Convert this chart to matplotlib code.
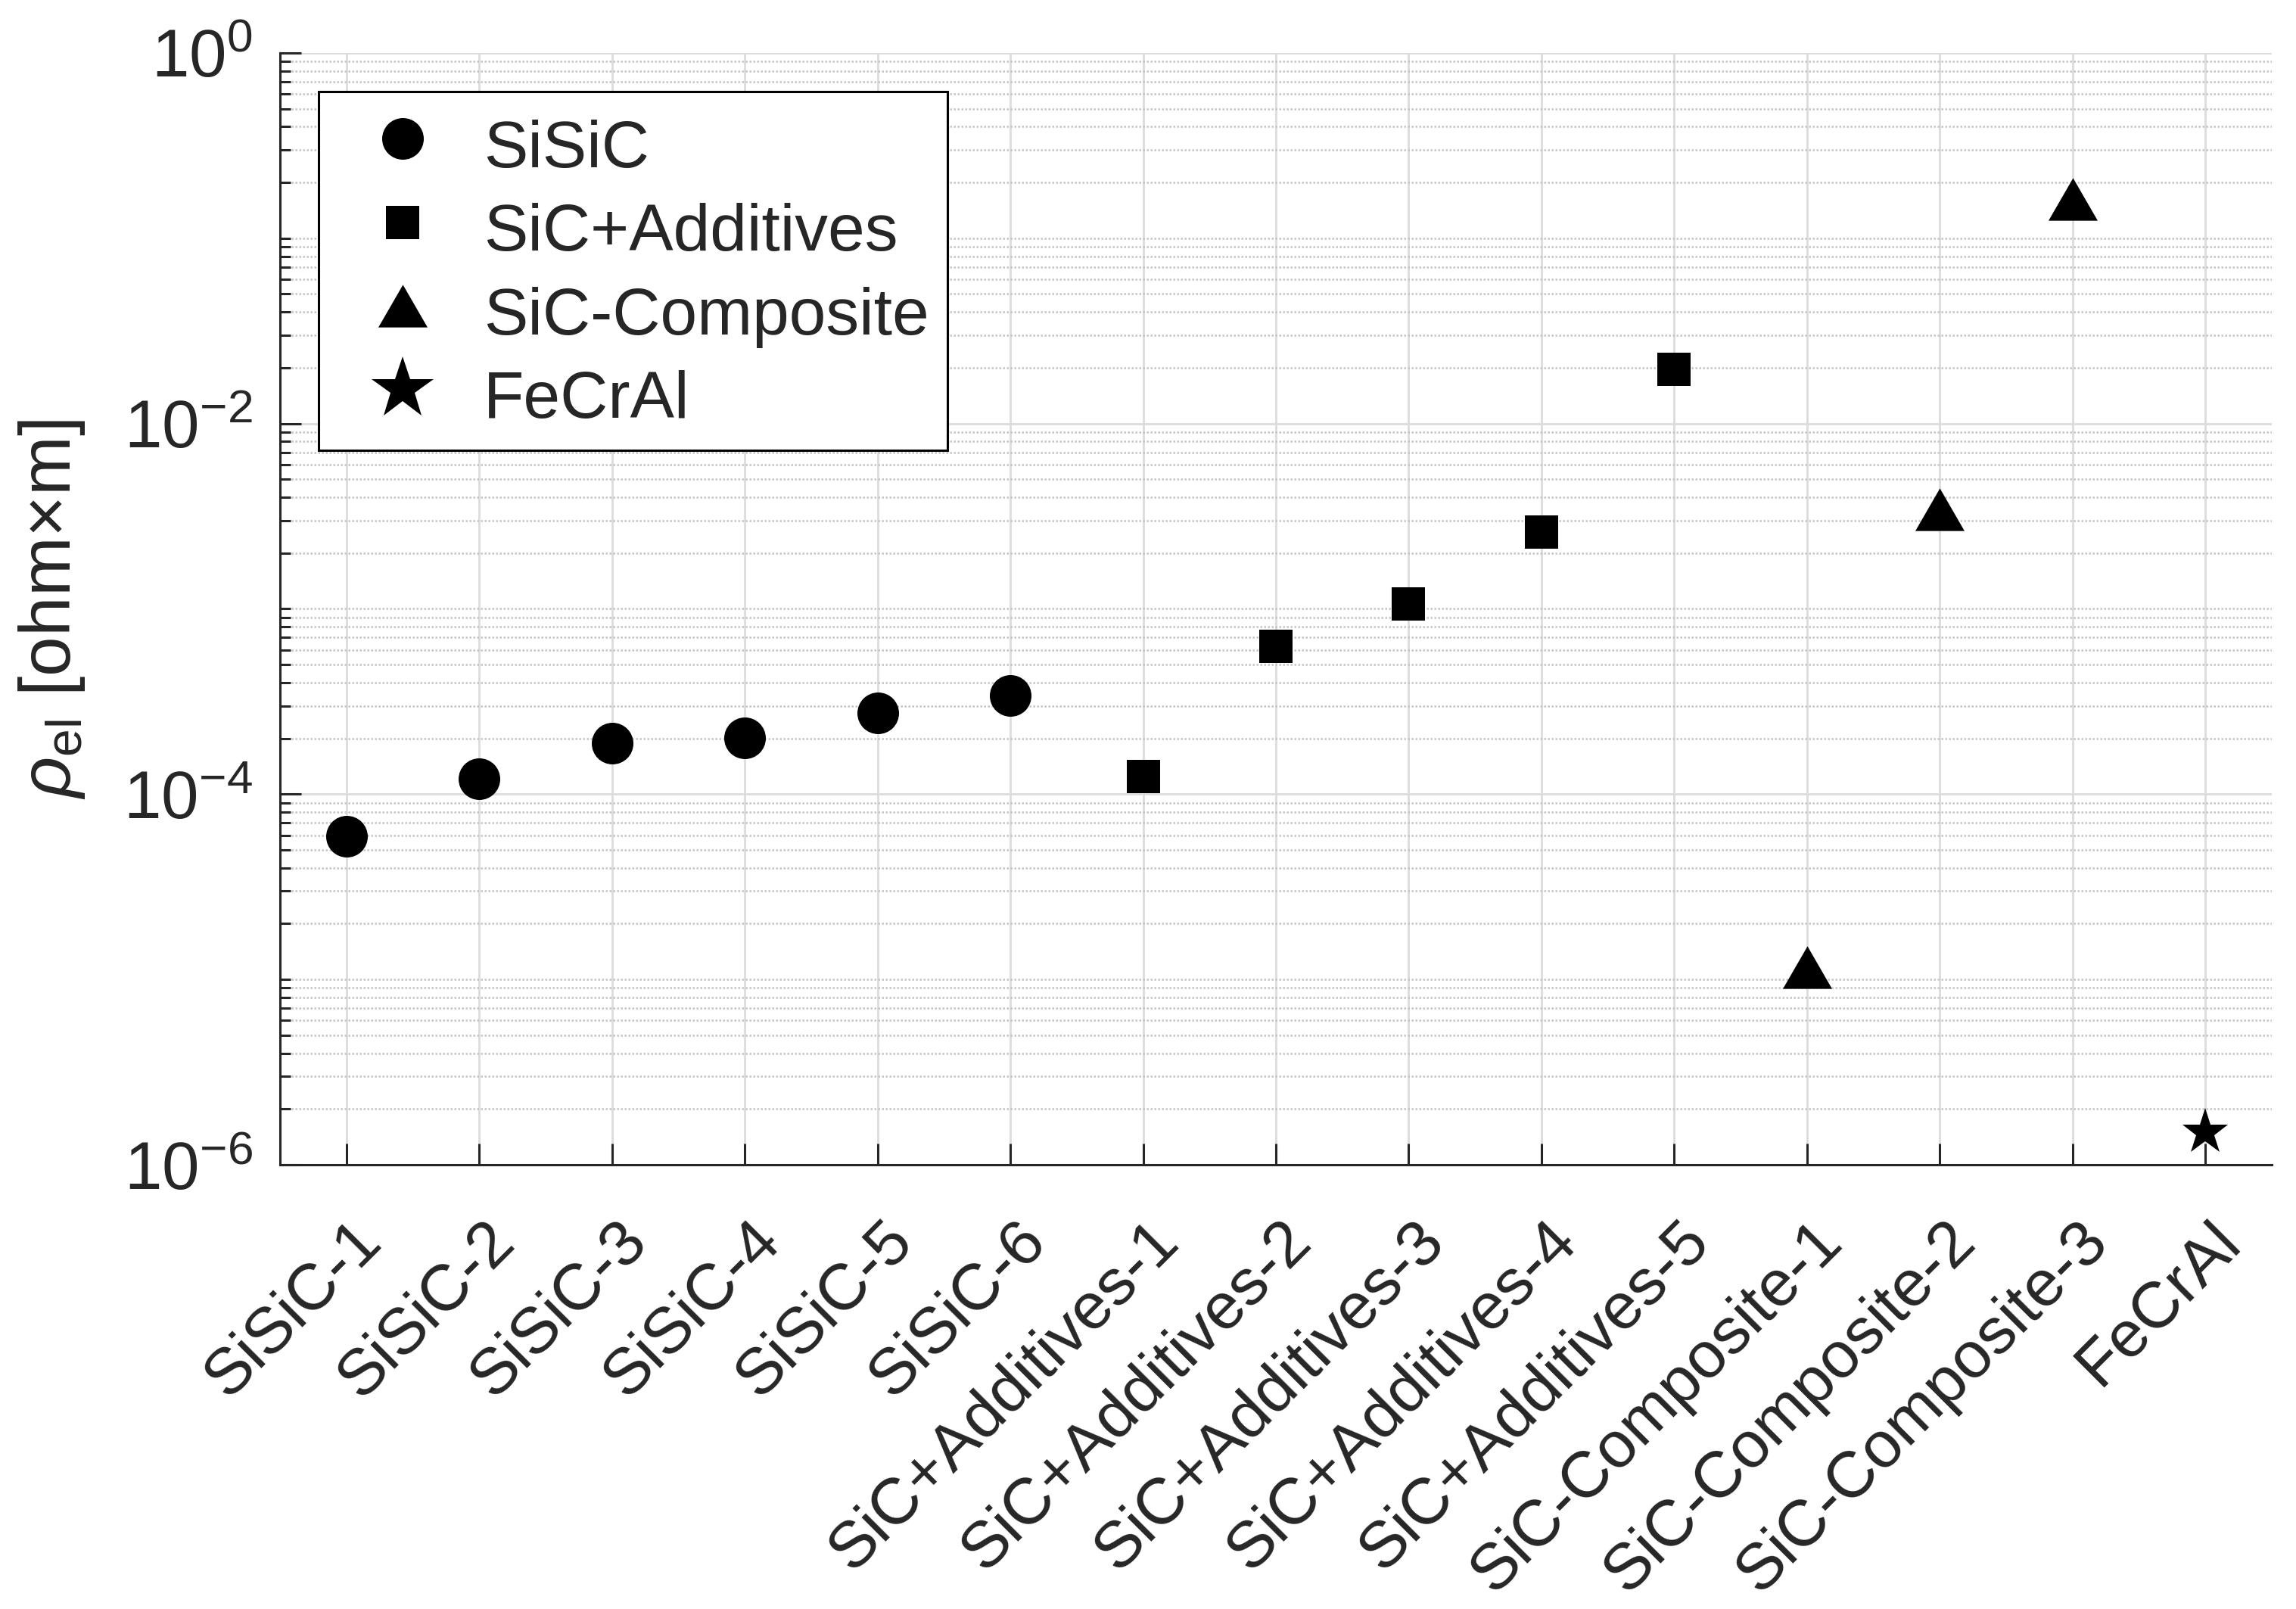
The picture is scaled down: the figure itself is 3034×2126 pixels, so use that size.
import numpy as np
import matplotlib
matplotlib.use('Agg')
import matplotlib.pyplot as plt
import matplotlib.transforms as mtransforms
from matplotlib.lines import Line2D
from matplotlib.ticker import FixedLocator, NullFormatter

plt.rcParams['font.family'] = ['Liberation Sans', 'DejaVu Sans']
plt.rcParams['mathtext.fontset'] = 'custom'
plt.rcParams['mathtext.rm'] = 'Liberation Sans'
plt.rcParams['mathtext.it'] = 'Liberation Sans:italic'

# sample names along the x axis
samples = ['SiSiC-1', 'SiSiC-2', 'SiSiC-3', 'SiSiC-4', 'SiSiC-5', 'SiSiC-6',
           'SiC+Additives-1', 'SiC+Additives-2', 'SiC+Additives-3',
           'SiC+Additives-4', 'SiC+Additives-5',
           'SiC-Composite-1', 'SiC-Composite-2', 'SiC-Composite-3', 'FeCrAl']

# electrical resistivity [ohm*m] per group
sisic_vals = [5.9e-5, 1.21e-4, 1.88e-4, 2.02e-4, 2.74e-4, 3.41e-4]
additive_vals = [1.245e-4, 6.25e-4, 1.06e-3, 2.6e-3, 1.97e-2]
composite_vals = [1.16e-5, 3.43e-3, 0.162]
fecral_vals = [1.5e-6]

group_names = ['SiSiC', 'SiC+Additives', 'SiC-Composite', 'FeCrAl']

txt = '#262626'
# flat equilateral-ish triangle like the original marker
tri = [(-1, -0.866), (1, -0.866), (0, 0.866)]

fig = plt.figure(figsize=(15.17, 10.63), dpi=200)
ax = fig.add_axes([0.12195, 0.2761, 0.8675, 0.691])

x = np.arange(1, len(samples) + 1)
n1 = len(sisic_vals)
n2 = n1 + len(additive_vals)
n3 = n2 + len(composite_vals)

ax.plot(x[:n1], sisic_vals, 'o', color='k', ms=19.8, mew=0, zorder=3)
ax.plot(x[n1:n2], additive_vals, 's', color='k', ms=15.5, mew=0, zorder=3)
ax.plot(x[n2:n3], composite_vals, marker=tri, ls='none', color='k', ms=23.4, mew=0, zorder=3)
ax.plot(x[n3:], fecral_vals, '*', color='k', ms=23, mew=0, zorder=3)

ax.set_yscale('log')
ax.set_ylim(1e-6, 1)
ax.set_xlim(0.5, 15.5)

major_y = [1e-6, 1e-4, 1e-2, 1e0]
ax.yaxis.set_major_locator(FixedLocator(major_y))
minor_y = []
for d in range(-6, 0):
    for k in range(1, 10):
        if k == 1 and d % 2 == 0:
            continue
        minor_y.append(k * 10.0 ** d)
ax.yaxis.set_minor_locator(FixedLocator(minor_y))
ax.yaxis.set_minor_formatter(NullFormatter())
ax.xaxis.set_minor_locator(FixedLocator([]))
ax.set_xticks(x)

ax.tick_params(axis='both', which='major', direction='in', length=10,
               width=1.1, color=txt)
ax.tick_params(axis='y', which='minor', direction='in', length=5,
               width=1.1, color=txt)
ax.tick_params(axis='y', which='major', pad=13)
ax.tick_params(axis='x', which='major', pad=0)

# tick labels (after tick_params so the offset is kept)
ax.set_yticklabels([r'$\mathregular{10^{%d}}$' % int(np.log10(v)) for v in major_y],
                   fontsize=32, color=txt)
ax.set_xticklabels(samples, rotation=45, ha='right', va='center',
                   rotation_mode='anchor', fontsize=31, color=txt)
offset = mtransforms.ScaledTranslation(12.2 / 72, -32 / 72, fig.dpi_scale_trans)
for lab in ax.get_xticklabels():
    lab.set_transform(lab.get_transform() + offset)

# grid
ax.grid(True, which='major', axis='both', color='#dcdcdc', lw=1.0, ls='-')
ax.grid(True, which='minor', axis='y', color='#c4c4c4', lw=0.9, ls=(0, (1, 1)))
ax.set_axisbelow(True)

for s in ['top', 'right']:
    ax.spines[s].set_visible(False)
for s in ['left', 'bottom']:
    ax.spines[s].set_color(txt)
    ax.spines[s].set_linewidth(1.1)

ax.set_ylabel(r'$\rho_{\mathregular{el}}$ [ohm×m]', fontsize=34, color=txt)
ax.yaxis.set_label_coords(-0.097, 0.5)

# legend
handles = [
    Line2D([], [], ls='none', marker='o', color='k', ms=19.8, mew=0),
    Line2D([], [], ls='none', marker='s', color='k', ms=15.5, mew=0),
    Line2D([], [], ls='none', marker=tri, color='k', ms=23.4, mew=0),
    Line2D([], [], ls='none', marker='*', color='k', ms=31, mew=0),
]
leg = ax.legend(handles, group_names, loc='upper left',
                bbox_to_anchor=(0.0194, 0.9653), borderaxespad=0,
                fontsize=31.5, frameon=True, fancybox=False,
                edgecolor='k', framealpha=1, borderpad=0.28,
                labelspacing=0.19, handlelength=1.98, handleheight=1.25,
                handletextpad=0.23)
leg.get_frame().set_linewidth(1.1)
for t in leg.get_texts():
    t.set_color(txt)

fig.savefig('out.png', dpi=200)
